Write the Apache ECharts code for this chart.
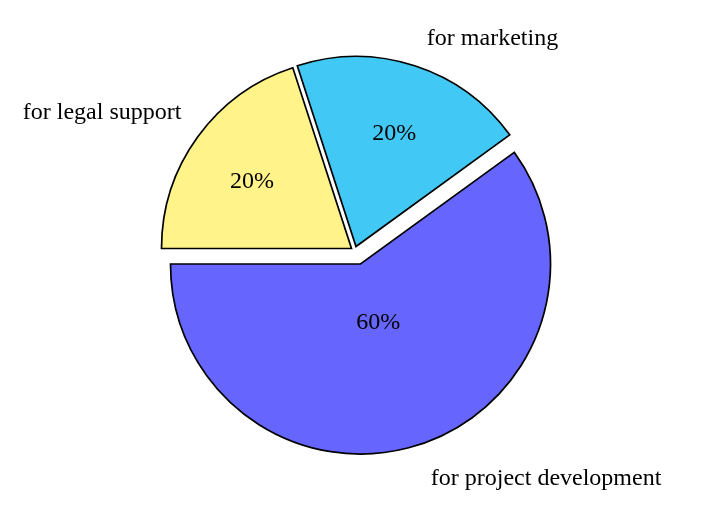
<!DOCTYPE html>
<html><head><meta charset="utf-8">
<script src="https://cdn.jsdelivr.net/npm/echarts@6/dist/echarts.min.js"></script>
<style>html,body{margin:0;padding:0;background:#fff}#c{width:707px;height:519px}</style>
</head><body><div id="c"></div>
<script>
const categories = ['for legal support', 'for marketing', 'for project development'];
const shares = [20, 20, 60];
const colors = ['#fff389', '#42c8f4', '#6666ff'];

// layout (exploded slice centres, label distances)
const centers = [[351.5, 248.5], [356, 246.5], [360.5, 264]];
const pctCenters = [[350.8, 253.4], [356.5, 249.5], [359.5, 265]];
const nameLine = [[41.6, -22.3], [28, -1.5], [36.1, -4.6]];
const pctRadius = [119, 119, 58];
const R = 190;
const FONT = 'Liberation Serif';

function sliceData(k, visible) {
  return categories.map((n, j) => ({
    name: n,
    value: shares[j],
    itemStyle: (j === k && visible)
      ? { color: colors[j], borderColor: '#000', borderWidth: 1.7, borderJoin: 'miter' }
      : { color: 'rgba(0,0,0,0)', borderWidth: 0 },
    label: { show: j === k }
  }));
}

const series = [];
categories.forEach((c, k) => {
  series.push({
    type: 'pie', radius: [0, R], center: centers[k], startAngle: 180, clockwise: true,
    avoidLabelOverlap: false, silent: true, animation: false,
    label: { position: 'outside', formatter: '{b}', fontFamily: FONT, fontSize: 24, color: '#000' },
    labelLine: { show: false, length: nameLine[k][0], length2: nameLine[k][1] },
    emphasis: { disabled: true },
    data: sliceData(k, true)
  });
  series.push({
    type: 'pie', radius: [0, pctRadius[k] * 2], center: pctCenters[k], startAngle: 180, clockwise: true,
    avoidLabelOverlap: false, silent: true, animation: false, z: 5,
    label: { position: 'inner', formatter: '{c}%', fontFamily: FONT, fontSize: 24, color: '#000' },
    labelLine: { show: false },
    emphasis: { disabled: true },
    data: sliceData(k, false)
  });
});

const chart = echarts.init(document.getElementById('c'), null, { renderer: 'canvas' });
chart.setOption({ backgroundColor: '#fff', animation: false, series: series });
</script>
</body></html>
